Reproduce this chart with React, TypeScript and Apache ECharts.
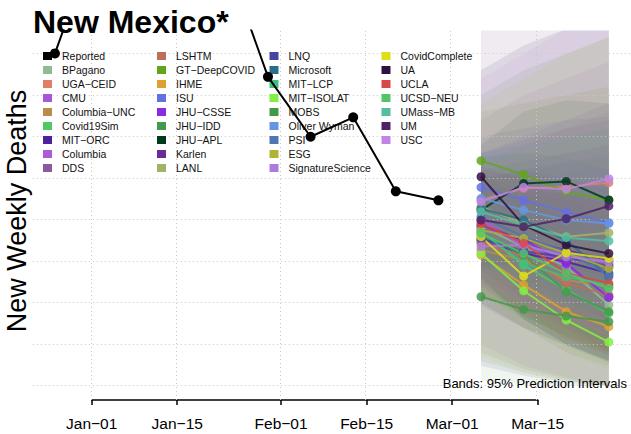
import React, { useEffect, useRef } from "react";
import * as echarts from "echarts";

const FONT = "'Liberation Sans', Arial, Helvetica, sans-serif";

// x values are days since Jan-01 (2021)
const tickDays = [0, 14, 31, 45, 59, 73];
const tickLabels = ["Jan−01", "Jan−15", "Feb−01", "Feb−15", "Mar−01", "Mar−15"];
const gridValues = [0, 25, 50, 75, 100, 125, 150, 175, 200];

const reportedDays = [-6, 1, 8, 15, 22, 29, 36, 43, 50, 57];
const reportedDeaths = [200.2, 272, 285, 280, 258, 186.1, 150.0, 161.7, 117.1, 111.7];

const forecastDays = [64, 71, 78, 85];

const modelNames = [
  "BPagano", "UGA−CEID", "CMU", "Columbia−UNC", "Covid19Sim", "MIT−ORC", "Columbia", "DDS",
  "LSHTM", "GT−DeepCOVID", "IHME", "ISU", "JHU−CSSE", "JHU−IDD", "JHU−APL", "Karlen", "LANL",
  "LNQ", "Microsoft", "MIT−LCP", "MIT−ISOLAT", "MOBS", "Oliver Wyman", "PSI", "ESG", "SignatureScience",
  "CovidComplete", "UA", "UCLA", "UCSD−NEU", "UMass−MB", "UM", "USC",
];

const modelColors = [
  "#8fbc8f", "#dc8068", "#a458d8", "#b98c4a", "#50c864", "#4c1f9e", "#a95ed6", "#8a5a9c",
  "#bd6e58", "#64a41c", "#dea030", "#6470e0", "#8a2be2", "#449a4c", "#003820", "#6a2c94", "#a0b468",
  "#4446a0", "#2a6e8c", "#3cc080", "#84ee44", "#44984c", "#6496e4", "#5074b4", "#b0b434", "#b07cdc",
  "#dce014", "#301040", "#d84848", "#54c468", "#54bea0", "#4e2266", "#c084e4",
];

const forecastMid = [
  [95.8, 83.8, 71.7, 48.6],
  [111.9, 118.9, 119.9, 122.3],
  [100.2, 84.8, 72.7, 53.6],
  [81.7, 75.7, 63.7, 59.7],
  [92.8, 72.7, 57.7, 43.6],
  [87.8, 79.7, 74.7, 67.7],
  [99.2, 83.8, 78.7, 73.7],
  [86.8, 81.7, 76.7, 72.7],
  [85.8, 77.7, 61.7, 54.6],
  [135.6, 127.1, 116.9, 111.9],
  [78.7, 60.7, 44.6, 35.6],
  [119.5, 111.9, 104.6, 98.2],
  [94.8, 87.8, 73.7, 53.2],
  [90.8, 78.7, 56.6, 44.6],
  [105.8, 121.9, 123.1, 111.9],
  [96.8, 87.8, 81.7, 75.7],
  [107.8, 97.8, 89.8, 92.2],
  [88.8, 80.7, 77.7, 71.7],
  [106.8, 99.8, 87.8, 65.7],
  [92.8, 73.7, 65.7, 60.7],
  [79.7, 57.2, 39.6, 26.3],
  [53.6, 46.0, 42.0, 38.6],
  [112.9, 105.8, 99.8, 97.8],
  [101.8, 89.8, 80.7, 66.7],
  [93.8, 88.8, 79.7, 70.7],
  [83.8, 84.8, 77.7, 74.7],
  [89.8, 66.1, 80.1, 76.7],
  [125.9, 96.8, 84.8, 79.7],
  [97.8, 85.8, 67.7, 61.7],
  [91.8, 79.7, 67.7, 58.7],
  [104.8, 96.8, 89.2, 87.2],
  [99.8, 95.8, 100.6, 108.3],
  [110.9, 119.5, 118.3, 124.7],
];

const lower95 = [
  [70, 52, 38, 20],
  [85, 80, 72, 65],
  [25, 12, 5, 0],
  [55, 42, 30, 22],
  [62, 40, 25, 14],
  [48, 35, 25, 15],
  [70, 52, 40, 30],
  [20, 10, 4, 0],
  [50, 35, 20, 12],
  [95, 80, 62, 50],
  [60, 42, 28, 20],
  [80, 65, 52, 40],
  [65, 50, 35, 20],
  [15, 8, 3, 0],
  [70, 75, 70, 55],
  [72, 60, 50, 40],
  [80, 62, 50, 42],
  [50, 35, 24, 14],
  [75, 62, 48, 30],
  [62, 42, 30, 22],
  [55, 35, 20, 10],
  [3, 1, 0, 0],
  [85, 70, 58, 50],
  [60, 42, 30, 18],
  [55, 42, 30, 20],
  [55, 45, 35, 25],
  [18, 8, 3, 0],
  [65, 40, 25, 15],
  [62, 45, 28, 18],
  [55, 40, 25, 15],
  [70, 58, 48, 42],
  [12, 6, 2, 0],
  [60, 50, 40, 30],
];

const upper95 = [
  [125, 120, 115, 100],
  [135, 145, 155, 165],
  [140, 150, 160, 170],
  [110, 115, 112, 110],
  [128, 112, 100, 88],
  [130, 135, 140, 145],
  [132, 125, 122, 120],
  [160, 175, 185, 195],
  [125, 130, 125, 120],
  [165, 170, 175, 180],
  [100, 82, 66, 55],
  [150, 155, 160, 162],
  [125, 128, 124, 118],
  [175, 190, 200, 210],
  [145, 165, 172, 170],
  [120, 118, 115, 112],
  [130, 130, 132, 138],
  [125, 130, 135, 140],
  [138, 140, 138, 130],
  [122, 115, 108, 105],
  [105, 88, 72, 60],
  [85, 85, 88, 90],
  [140, 145, 150, 155],
  [140, 148, 155, 160],
  [132, 140, 148, 155],
  [115, 122, 128, 132],
  [170, 185, 200, 210],
  [190, 205, 215, 230],
  [130, 125, 115, 110],
  [128, 124, 120, 116],
  [138, 142, 150, 155],
  [225, 250, 270, 290],
  [185, 200, 215, 230],
];

const BAND_ALPHA = 0.09;

function rgba(hex: string, a: number) {
  const h = hex.replace("#", "");
  const r = parseInt(h.slice(0, 2), 16);
  const g = parseInt(h.slice(2, 4), 16);
  const b = parseInt(h.slice(4, 6), 16);
  return `rgba(${r},${g},${b},${a})`;
}

export default function App() {
  const ref = useRef<HTMLDivElement>(null);

  useEffect(() => {
    if (!ref.current) return;
    const chart = echarts.init(ref.current, undefined, { renderer: "svg" });

    const legendColumns = [
      ["Reported", ...modelNames.slice(0, 8)],
      modelNames.slice(8, 17),
      modelNames.slice(17, 26),
      modelNames.slice(26, 33),
    ];
    const legendLefts = [43, 157, 269.5, 381.5];
    const colorOf = (n: string) => (n === "Reported" ? "#000000" : modelColors[modelNames.indexOf(n)]);

    const legends = legendColumns.map((names, c) => ({
      orient: "vertical",
      left: legendLefts[c],
      top: 49,
      padding: 0,
      itemWidth: 9,
      itemHeight: 8,
      itemGap: 0,
      icon: "rect",
      selectedMode: false,
      textStyle: { fontSize: 10.5, color: "#111", lineHeight: 14, fontFamily: FONT, padding: [0, 0, 0, 5] },
      data: names.map((n) => ({ name: n, itemStyle: { color: colorOf(n), opacity: 1 } })),
    }));

    const modelSeries = modelNames.map((name, i) => ({
      type: "line",
      name,
      xAxisIndex: 0,
      yAxisIndex: 0,
      data: forecastDays.map((d, k) => [d, forecastMid[i][k]]),
      symbol: "circle",
      symbolSize: 9,
      showSymbol: true,
      itemStyle: { color: modelColors[i], opacity: 0.85 },
      lineStyle: { color: modelColors[i], width: 2, opacity: 0.85 },
      z: 3,
      silent: true,
    }));

    const option: any = {
      animation: false,
      textStyle: { fontFamily: FONT },
      title: {
        text: "New Mexico*",
        left: 33,
        top: 6,
        padding: 0,
        textStyle: { fontSize: 32, fontWeight: "bold", color: "#000", fontFamily: FONT },
      },
      legend: legends,
      grid: [
        { left: 32.8, top: 30.5, width: 600.5, height: 369.5 },
        { left: 91.7, top: 399, width: 446, height: 1 },
      ],
      xAxis: [
        { type: "value", gridIndex: 0, min: -9.64, max: 88.64, show: false },
        {
          type: "value",
          gridIndex: 1,
          min: 0,
          max: 73,
          position: "bottom",
          axisLine: { show: true, onZero: false, lineStyle: { color: "#000", width: 1.5 } },
          axisTick: { show: true, length: 5, lineStyle: { color: "#000", width: 1.5 }, customValues: tickDays },
          axisLabel: {
            show: true,
            customValues: tickDays,
            formatter: (v: number) => tickLabels[tickDays.indexOf(v)] ?? "",
            fontSize: 15.5,
            color: "#000",
            margin: 15,
            fontFamily: FONT,
          },
          splitLine: { show: false },
        },
      ],
      yAxis: [
        { type: "value", gridIndex: 0, min: -8.6, max: 214, show: false },
        { type: "value", gridIndex: 1, min: 0, max: 1, show: false },
      ],
      graphic: [
        {
          type: "text",
          x: 17.3,
          y: 211,
          rotation: Math.PI / 2,
          style: {
            text: "New Weekly Deaths",
            fontSize: 27,
            fontFamily: FONT,
            fill: "#000",
            align: "center",
            verticalAlign: "middle",
          },
        },
        {
          type: "text",
          x: 627,
          y: 383.8,
          z: 10,
          style: {
            text: "Bands: 95% Prediction Intervals",
            fontSize: 13,
            fontFamily: FONT,
            fill: "#000",
            align: "right",
            verticalAlign: "middle",
          },
        },
      ],
      series: [
        {
          type: "custom",
          name: "bands",
          xAxisIndex: 0,
          yAxisIndex: 0,
          clip: true,
          silent: true,
          z: 1,
          data: modelNames.map((_, i) => [forecastDays[0], lower95[i][0], i]),
          encode: { x: 0, y: 1 },
          renderItem: (params: any, api: any) => {
            const i = params.dataIndex;
            const pts: number[][] = [];
            for (let k = 0; k < forecastDays.length; k++) pts.push(api.coord([forecastDays[k], upper95[i][k]]));
            for (let k = forecastDays.length - 1; k >= 0; k--) pts.push(api.coord([forecastDays[k], lower95[i][k]]));
            return {
              type: "polygon",
              shape: { points: pts },
              style: { fill: rgba(modelColors[i], BAND_ALPHA), stroke: null },
            };
          },
        },
        ...modelSeries,
        {
          type: "line",
          name: "Reported",
          xAxisIndex: 0,
          yAxisIndex: 0,
          data: reportedDays.map((d, k) => [d, reportedDeaths[k]]),
          symbol: "circle",
          symbolSize: 10,
          showSymbol: true,
          clip: true,
          itemStyle: { color: "#000" },
          lineStyle: { color: "#000", width: 2 },
          z: 4,
          silent: true,
          markLine: {
            z: 2,
            silent: true,
            symbol: ["none", "none"],
            label: { show: false },
            emphasis: { disabled: true },
            lineStyle: { color: "#c8c8c8", width: 1, type: [1, 3] },
            data: [
              ...gridValues.map((v) => ({ yAxis: v })),
              ...tickDays.map((d) => ({ xAxis: d })),
            ],
          },
        },
      ],
    };

    chart.setOption(option);
    return () => chart.dispose();
  }, []);

  return (
    <div
      ref={ref}
      style={{ position: "absolute", left: 0, top: 0, width: 631, height: 434, background: "#fff" }}
    />
  );
}
